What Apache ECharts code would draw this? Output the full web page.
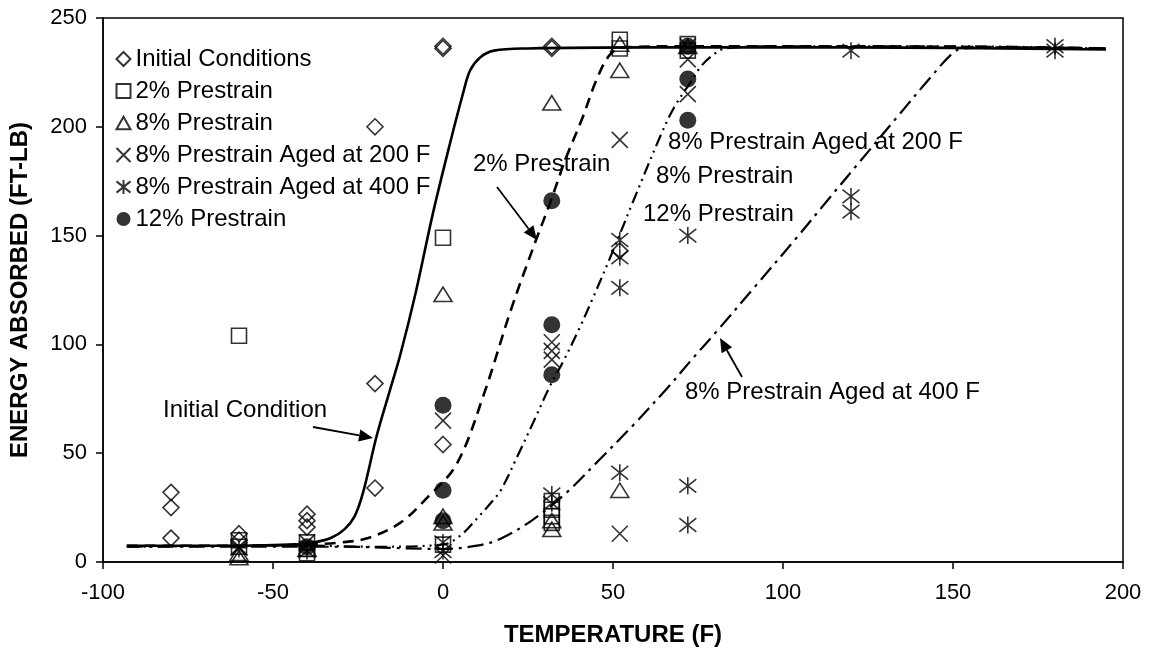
<!DOCTYPE html>
<html><head><meta charset="utf-8">
<script src="https://cdn.jsdelivr.net/npm/echarts@6/dist/echarts.min.js"></script>
<style>html,body{margin:0;padding:0;background:#fff}#c{width:1149px;height:652px}</style>
</head><body><div id="c"></div>
<script>
// ---- data ----
const seriesNames = ['Initial Conditions','2% Prestrain','8% Prestrain','8% Prestrain Aged at 200 F','8% Prestrain Aged at 400 F','12% Prestrain'];
const initialPts = [[-80,32],[-80,25],[-80,11],[-60,13],[-60,10],[-40,22],[-40,19],[-40,16],[-20,200],[-20,82],[-20,34],[0,237],[0,236],[0,54],[32,237],[32,236],[52,143]];
const pre2Pts = [[-60,104],[-60,10],[-60,7],[-40,6],[-40,9],[-40,4],[0,149],[0,8],[32,28],[32,24],[32,21],[32,18],[52,240],[52,236],[72,238],[72,235]];
const pre8Pts = [[-60,2],[-60,4],[-40,6],[0,123],[0,21],[0,18],[32,211],[32,19],[32,15],[52,238],[52,226],[52,33],[72,237]];
const aged200Pts = [[-60,7],[-40,9],[0,65],[0,3],[32,101],[32,97],[32,93],[52,194],[52,13],[72,231],[72,215],[72,237]];
const aged400Pts = [[-60,6],[-40,5],[0,9],[0,5],[32,31],[32,27],[52,148],[52,140],[52,126],[52,41],[72,150],[72,35],[72,17],[120,235],[120,168],[120,161],[180,237],[180,235]];
const pre12Pts = [[-40,7],[0,72],[0,33],[0,19],[32,166],[32,109],[32,86],[72,237],[72,222],[72,203]];

const curveInitial = [[-93,7.5],[-60,7.5],[-45,8],[-38,9],[-33,11],[-29,15],[-26,21],[-23.5,32],[-19.5,58],[-15.6,79],[-12.6,95],[-8,124],[-3,160],[2,192],[6,216],[8,226],[11,232],[15,235],[25,236],[60,236.5],[120,236.5],[195,235.5]];
const curve2 = [[-93,7.5],[-60,7.5],[-40,8],[-30,9],[-22,11],[-12.6,18],[-5,29],[4,45],[12,77],[20,116],[27.6,149],[31.5,165],[36,185],[41,204],[45,221],[49,233],[53,236.5],[70,237],[120,237],[195,236]];
const curve8 = [[-93,7],[-40,7.5],[-20,7],[0,8],[5,12],[10,20],[14,27],[17,33],[21.7,48],[26.5,64],[31.5,81],[35.3,92],[40,107],[44,121],[50,143],[56,166],[64,196],[68,209],[72.6,220],[76,228],[79.4,233],[83,236],[100,237],[150,237],[195,236]];
const curve400 = [[-93,7],[-60,7],[-30,7],[0,6],[10,7.5],[16.8,10.6],[26.5,19.5],[36.4,32],[46,47],[56,63],[66,80],[73.7,94],[80.5,106],[92,127],[104,149],[113,166],[122.6,184],[134.4,206],[143,222],[150,234],[153,236],[170,236.5],[195,236]];

const xMin = -100, xMax = 200, xStep = 50;
const yMin = 0, yMax = 250, yStep = 50;

const annotations = [
  {text:'Initial Condition', x:163, y:411},
  {text:'2% Prestrain', x:473, y:165},
  {text:'8% Prestrain Aged at 200 F', x:668, y:143},
  {text:'8% Prestrain', x:656, y:177},
  {text:'12% Prestrain', x:643, y:215},
  {text:'8% Prestrain Aged at 400 F', x:685, y:393}
];
const arrows = [
  [313,427,373,438],
  [497,187,537,240],
  [742,377,720,338]
];

// ---- chart ----
const FONT = 'Liberation Sans, Arial, sans-serif';
const sym = {
  diamond:'path://M5,0 L10,5 L5,10 L0,5 Z',
  square:'path://M0,0 L10,0 L10,10 L0,10 Z',
  triangle:'path://M5,0 L10,9 L0,9 Z',
  cross:'path://M0,0 L10,10 M10,0 L0,10',
  star:'path://M0,1 L10,9 M10,1 L0,9 M5,0 L5,10'
};
function scatter(name, data, symbol, size, filled){
  return {
    name, type:'scatter', data, symbol, symbolSize:size, symbolKeepAspect:true,
    itemStyle: filled ? {color:'#000'} : {color:'none', borderColor:'#000', borderWidth:1.6},
    z:3
  };
}
function curve(data, type, width){
  return {type:'line', data, smooth:0.35, showSymbol:false, symbol:'none', silent:true,
    lineStyle:{color:'#000', width, type}, z:2};
}
const chart = echarts.init(document.getElementById('c'), null, {renderer:'canvas'});
const graphics = [];
annotations.forEach(a => graphics.push({type:'text', left:a.x, top:a.y-13, style:{text:a.text, font:'24px '+FONT, fill:'#000'}}));
arrows.forEach(([x1,y1,x2,y2]) => {
  const ang = Math.atan2(y2-y1, x2-x1), L = 14, W = 6;
  const bx = x2 - L*Math.cos(ang), by = y2 - L*Math.sin(ang);
  const px = -Math.sin(ang)*W, py = Math.cos(ang)*W;
  graphics.push({type:'line', shape:{x1, y1, x2:bx, y2:by}, style:{stroke:'#000', lineWidth:1.8}});
  graphics.push({type:'polygon', shape:{points:[[x2,y2],[bx+px,by+py],[bx-px,by-py]]}, style:{fill:'#000'}});
});
chart.setOption({
  backgroundColor:'#fff',
  animation:false,
  textStyle:{fontFamily:FONT, color:'#000'},
  grid:{left:103, right:26, top:18, bottom:89, show:true, borderColor:'#000', borderWidth:1.5, backgroundColor:'transparent'},
  legend:{
    data:seriesNames, orient:'vertical', left:114, top:47, padding:0, itemGap:8,
    itemWidth:14, itemHeight:15, textStyle:{fontSize:24, color:'#000', fontFamily:FONT}
  },
  xAxis:{type:'value', min:xMin, max:xMax, interval:xStep,
    name:'TEMPERATURE (F)', nameLocation:'middle', nameGap:61,
    nameTextStyle:{fontSize:24, fontWeight:'bold', color:'#000', fontFamily:FONT},
    axisLine:{onZero:false, lineStyle:{color:'#000', width:1.5}},
    axisTick:{show:true, inside:false, length:7, lineStyle:{color:'#000', width:1.5}},
    axisLabel:{fontSize:22, color:'#000', margin:20, fontFamily:FONT},
    splitLine:{show:false}},
  yAxis:{type:'value', min:yMin, max:yMax, interval:yStep,
    name:'ENERGY ABSORBED (FT-LB)', nameLocation:'middle', nameGap:71, nameRotate:90,
    nameTextStyle:{fontSize:24, fontWeight:'bold', color:'#000', fontFamily:FONT},
    axisLine:{onZero:false, lineStyle:{color:'#000', width:1.5}},
    axisTick:{show:true, inside:false, length:7, lineStyle:{color:'#000', width:1.5}},
    axisLabel:{fontSize:22, color:'#000', margin:16, fontFamily:FONT},
    splitLine:{show:false}},
  graphic:graphics,
  series:[
    scatter(seriesNames[0], initialPts, sym.diamond, 16, false),
    scatter(seriesNames[1], pre2Pts, sym.square, 15, false),
    scatter(seriesNames[2], pre8Pts, sym.triangle, [18,16], false),
    scatter(seriesNames[3], aged200Pts, sym.cross, 16, false),
    scatter(seriesNames[4], aged400Pts, sym.star, 17, false),
    scatter(seriesNames[5], pre12Pts, 'circle', 17, true),
    curve(curveInitial, 'solid', 2.6),
    curve(curve2, [11,7], 2.6),
    curve(curve8, [12,5,2,5,2,5], 2.2),
    curve(curve400, [16,6,3,6], 2.2)
  ]
});
</script></body></html>
